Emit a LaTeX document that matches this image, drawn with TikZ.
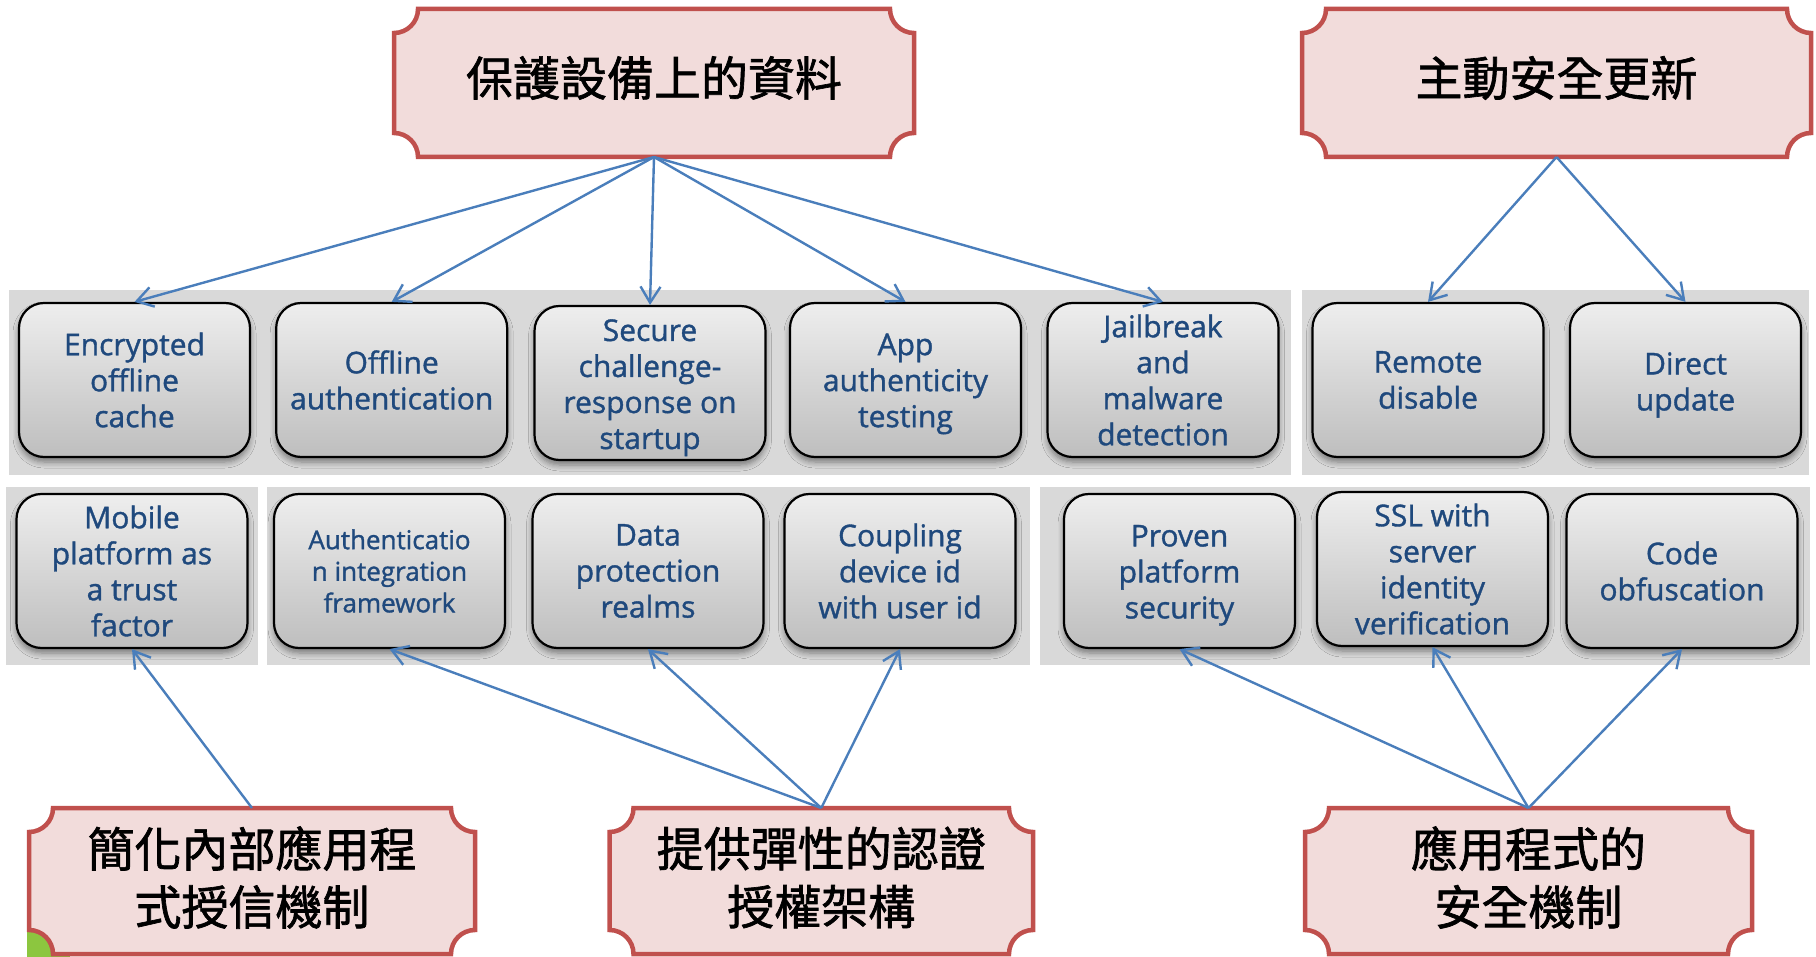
\documentclass[tikz,border=0pt]{standalone}
\usepackage{fontspec}
\setmainfont{Open Sans}
\newfontfamily\boxfont{Open Sans}[FakeBold=1.2]
\newfontfamily\cjk{Noto Sans CJK TC}[FakeBold=1.4]
\usetikzlibrary{arrows.meta,shadows.blur,calc}
\definecolor{hdrfill}{RGB}{242,220,219}
\definecolor{hdrline}{RGB}{192,80,77}
\definecolor{bandc}{RGB}{217,217,217}
\definecolor{boxtop}{RGB}{238,238,238}
\definecolor{boxbot}{RGB}{190,190,190}
\definecolor{boxtext}{RGB}{31,73,125}
\definecolor{arrowc}{RGB}{74,126,187}
\definecolor{greenc}{RGB}{140,198,63}
\newcommand\plaqueshape[1]{%
  \draw[plq]
    ($(#1.north west)+(0,24)$) .. controls ($(#1.north west)+(13.25,24)$) and ($(#1.north west)+(24,13.25)$) .. ($(#1.north west)+(24,0)$)
    -- ($(#1.north east)+(-24,0)$) .. controls ($(#1.north east)+(-24,13.25)$) and ($(#1.north east)+(-13.25,24)$) .. ($(#1.north east)+(0,24)$)
    -- ($(#1.south east)+(0,-24)$) .. controls ($(#1.south east)+(-13.25,-24)$) and ($(#1.south east)+(-24,-13.25)$) .. ($(#1.south east)+(-24,0)$)
    -- ($(#1.south west)+(24,0)$) .. controls ($(#1.south west)+(24,-13.25)$) and ($(#1.south west)+(13.25,-24)$) .. ($(#1.south west)+(0,-24)$)
    -- cycle;}
\begin{document}
\begin{tikzpicture}[x=0.5pt,y=-0.5pt,
  plq/.style={fill=hdrfill,draw=hdrline,line width=2.25pt,line join=miter},
  hdr/.style={draw=none,inner sep=0pt,outer sep=0pt,minimum height=74pt},
  hdrtext/.style={font=\cjk\fontsize{23.5}{29}\selectfont,align=center,inner sep=0pt},
  box/.style={draw=black,line width=1.1pt,rounded corners=12.5pt,top color=boxtop,bottom color=boxbot,
    minimum width=115.5pt,minimum height=77pt,align=center,text=boxtext,inner sep=0pt,
    font=\boxfont\fontsize{15}{18}\selectfont,
    blur shadow={shadow xshift=0pt,shadow yshift=-2.5pt,shadow blur radius=3pt,shadow blur steps=6,shadow opacity=45}},
  arr/.style={draw=arrowc,line width=1.2pt,-{Straight Barb[length=8pt,width=10pt]}}]
\useasboundingbox (0,0) rectangle (1816,957);
% background bands
\fill[bandc] (8.6,290) rectangle (1291,475);
\fill[bandc] (1302,290) rectangle (1809,475);
\fill[bandc] (6,487) rectangle (257.6,665);
\fill[bandc] (267,487) rectangle (1030,665);
\fill[bandc] (1040,487) rectangle (1810,665);
% slide decoration
\fill[greenc] (27,925) rectangle (70,957);
% headers
\node[hdr,minimum width=260pt] (h1) at (654,83) {};
\node[hdr,minimum width=254.5pt] (h2) at (1556.5,83) {};
\node[hdr,minimum width=223pt,minimum height=73pt] (h3) at (252,881) {};
\node[hdr,minimum width=211.75pt,minimum height=73pt] (h4) at (821.25,881) {};
\node[hdr,minimum width=223.5pt,minimum height=73pt] (h5) at (1528.5,881) {};
\plaqueshape{h1}\plaqueshape{h2}\plaqueshape{h3}\plaqueshape{h4}\plaqueshape{h5}
\node[hdrtext] (h1t) at (654,78) {保護設備上的資料};
\node[hdrtext] (h2t) at (1556.5,78) {主動安全更新};
\node[hdrtext] (h3t) at (252,877.5) {簡化內部應用程\\式授信機制};
\node[hdrtext] (h4t) at (821.25,877.5) {提供彈性的認證\\授權架構};
\node[hdrtext] (h5t) at (1528.5,877.5) {應用程式的\\安全機制};
% row 1
\node[box] (enc) at (134.5,380) {Encrypted\\offline\\cache};
\node[box] (off) at (391.7,380) {Offline\\authentication};
\node[box] (sec) at (650,383) {\rule{0pt}{15.6pt}Secure\\challenge-\\response on\\startup};
\node[box] (app) at (905.5,380) {\rule{0pt}{14.7pt}App\\authenticity\\testing};
\node[box] (jail) at (1163,380) {Jailbreak\\and\\malware\\detection};
\node[box] (rem) at (1428,380) {Remote\\disable};
\node[box] (dir) at (1685.5,380) {\rule{0pt}{16pt}Direct\\update};
% row 2
\node[box] (mob) at (132,571) {Mobile\\platform as\\a trust\\factor};
\node[box,font=\boxfont\fontsize{13}{15.8}\selectfont] (auth) at (389.5,571) {Authenticatio\\n integration\\framework};
\node[box] (data) at (648,571) {Data\\protection\\realms};
\node[box] (coup) at (900,571) {Coupling\\device id\\with user id};
\node[box] (prov) at (1179.5,571) {\rule{0pt}{15pt}Proven\\platform\\security};
\node[box] (ssl) at (1432.5,569) {SSL with\\server\\identity\\verification};
\node[box] (code) at (1682,571) {Code\\obfuscation};
% connectors
\foreach \t in {enc,off,sec,app,jail} \draw[arr] (h1.south) -- (\t.north);
\foreach \t in {rem,dir} \draw[arr] (h2.south) -- (\t.north);
\draw[arr] (h3.north) -- (mob.south);
\foreach \t in {auth,data,coup} \draw[arr] (h4.north) -- (\t.south);
\foreach \t in {prov,ssl,code} \draw[arr] (h5.north) -- (\t.south);
\end{tikzpicture}
\end{document}
